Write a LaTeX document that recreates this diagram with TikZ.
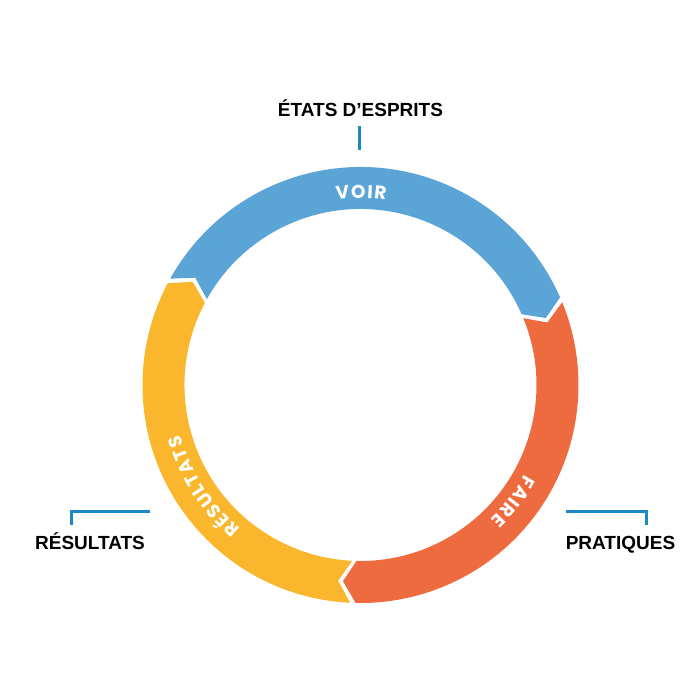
\documentclass[tikz,border=0pt]{standalone}
\usepackage{fontspec}
\setmainfont{Liberation Sans}
\newfontfamily\ringfont{Poppins}
\usetikzlibrary{positioning, decorations.text}
\definecolor{voirblue}{RGB}{91,165,214}
\definecolor{faireorange}{RGB}{238,107,64}
\definecolor{resyellow}{RGB}{250,182,44}
\definecolor{leaderblue}{RGB}{28,137,199}
\tikzset{
    heading/.style={font=\bfseries\fontsize{19}{21}\selectfont, inner sep=0pt, anchor=base}, % the three outer titles
    leader/.style={draw=leaderblue, line width=3pt},
    ringtext/.style={decorate, decoration={text along path, text align=center,
        text={|\ringfont\bfseries\fontsize{18.5}{18.5}\selectfont\color{white}\kern1.3pt|#1}}}
}

\begin{document}
\begin{tikzpicture}[x=1pt,y=1pt]
    \useasboundingbox (0,0) rectangle (700,700);
    \coordinate (c) at (360.5,315);

    % the three arrow segments of the ring (clockwise)
    \begin{scope}[shift={(c)}]
        \foreach \col/\a/\b in {voirblue/151.5/23, faireorange/23/-92, resyellow/268/151.5}
            \fill[\col] ({\a-0.7}:218pt) arc[start angle=\a-0.7, end angle=\b+0.7, radius=218pt]
                -- ({\b+0.7-3.8}:197pt) -- ({\b+0.7}:176pt)
                arc[start angle=\b+0.7, end angle=\a-0.7, radius=176pt]
                -- ({\a-0.7-3.8}:197pt) -- cycle;
    \end{scope}

    \path[ringtext=VOIR] (c) ++(125:187pt) arc[start angle=125, end angle=55, radius=187pt];
    \path[ringtext=FAIRE] (c) ++(-2:187pt) arc[start angle=-2, end angle=-72, radius=187pt];
    \path[ringtext=RÉSULTATS] (c) ++(255:187pt) arc[start angle=255, end angle=171, radius=187pt];

    \node[heading] (etats) at (360.5,583.3) {ÉTATS D’ESPRITS};
    \node[heading] (resultats) at (90,150) {RÉSULTATS};
    \node[heading] (pratiques) at (620.5,150) {PRATIQUES};

    \coordinate (etatsend) at (359,550);
    \coordinate (resend) at (150,188.3);
    \coordinate (pratend) at (566,188.3);

    \draw[leader] ([yshift=-6.6pt]etats.north -| etatsend) ++(0,-20) -- (etatsend);
    \draw[leader] (resend) -| ([xshift=-18.3pt, yshift=25pt]resultats.base);
    \draw[leader] (pratend) -| ([xshift=25.5pt, yshift=25pt]pratiques.base);
\end{tikzpicture}
\end{document}
